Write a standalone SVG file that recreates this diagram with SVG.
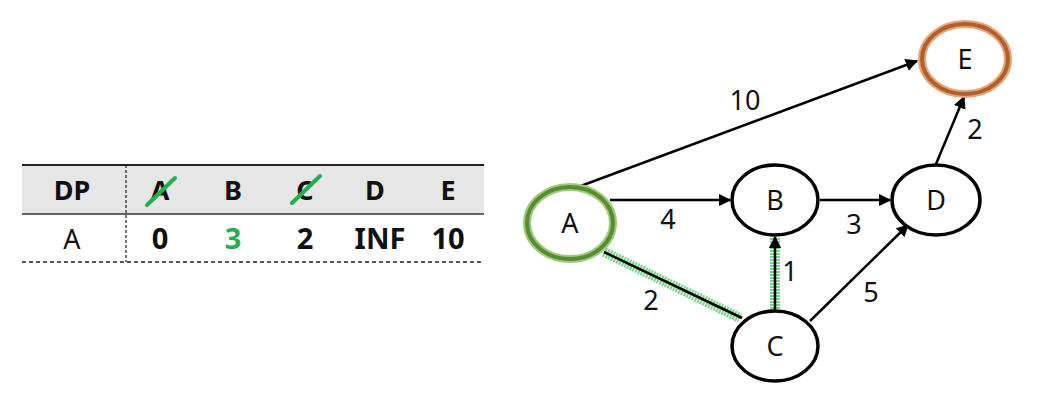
<svg xmlns="http://www.w3.org/2000/svg" width="1049" height="414" viewBox="0 0 1049 414">
<style>
.hd{font-family:"Noto Sans","Liberation Sans",sans-serif;font-weight:bold;font-size:27px;text-anchor:middle;fill:#111}
.rw{font-family:"Noto Sans","Liberation Sans",sans-serif;font-weight:bold;font-size:29px;text-anchor:middle;fill:#111}
.nl{font-family:"Noto Sans","Open Sans","Liberation Sans",sans-serif;font-size:27px;text-anchor:middle;fill:#111}
.el{font-family:"Noto Sans","Open Sans","Liberation Sans",sans-serif;font-size:27px;text-anchor:middle;fill:#111}
.node{fill:#fff;stroke:#000;stroke-width:3.5}
.edge{stroke:#000;stroke-width:2.5;fill:none;marker-end:url(#arr)}
.glow{stroke:#3cc455;stroke-opacity:0.7;stroke-width:10;fill:none;stroke-dasharray:2 1}
.strike{stroke:#22b14c;stroke-width:4;stroke-linecap:round}
</style>
<defs>
<marker id="arr" viewBox="0 0 10 10" refX="9" refY="5" markerWidth="5" markerHeight="5" orient="auto" markerUnits="strokeWidth">
<path d="M0,0 L10,5 L0,10 z" fill="#000"/>
</marker>
</defs>
<g id="table">
<rect x="22" y="165" width="462" height="49" fill="#e6e6e6"/>
<line x1="22" y1="165" x2="484" y2="165" stroke="#222" stroke-width="2"/>
<line x1="22" y1="214" x2="484" y2="214" stroke="#333" stroke-width="1.5"/>
<line x1="22" y1="262" x2="484" y2="262" stroke="#222" stroke-width="1.5" stroke-dasharray="4 3"/>
<line x1="126" y1="165" x2="126" y2="262" stroke="#222" stroke-width="1.2" stroke-dasharray="3 2"/>
<text class="hd" x="72" y="200">DP</text>
<text class="hd" x="160" y="200">A</text>
<text class="hd" x="233" y="200">B</text>
<text class="hd" x="305" y="200">C</text>
<text class="hd" x="375" y="200">D</text>
<text class="hd" x="448" y="200">E</text>
<line class="strike" x1="147" y1="205" x2="175" y2="178"/>
<line class="strike" x1="292" y1="203" x2="320" y2="176"/>
<text class="nl" x="72" y="249">A</text>
<text class="rw" x="160" y="249">0</text>
<text class="rw" x="233" y="249" style="fill:#22b14c">3</text>
<text class="rw" x="305" y="249">2</text>
<text class="rw" x="380" y="249">INF</text>
<text class="rw" x="448" y="249">10</text>
</g>
<g id="connectors">
<line class="glow" x1="604" y1="252" x2="740" y2="318"/>
<line class="glow" x1="775" y1="312" x2="775" y2="238"/>
<line class="edge" x1="578" y1="187" x2="917" y2="61"/>
<line class="edge" x1="610" y1="200" x2="730" y2="200"/>
<line class="edge" x1="820" y1="200" x2="890" y2="200"/>
<line class="edge" x1="775" y1="311" x2="775" y2="237"/>
<line x1="604" y1="252" x2="742" y2="318" stroke="#000" stroke-width="2.5"/>
<line class="edge" x1="810" y1="321" x2="908" y2="225"/>
<line class="edge" x1="936" y1="164" x2="964" y2="97"/>
<text class="el" x="745" y="110">10</text>
<text class="el" x="668" y="229">4</text>
<text class="el" x="854" y="234">3</text>
<text class="el" x="790" y="281">1</text>
<text class="el" x="651" y="310">2</text>
<text class="el" x="871" y="302">5</text>
<text class="el" x="975" y="139">2</text>
</g>
<g id="node-A">
<ellipse cx="570" cy="223" rx="43" ry="36" fill="#fff" stroke="#9ccc7a" stroke-width="8"/>
<ellipse cx="570" cy="223" rx="43" ry="36" fill="none" stroke="#5a8a32" stroke-width="4"/>
<text class="nl" x="570" y="233">A</text>
</g>
<g id="node-B">
<ellipse class="node" cx="775" cy="200" rx="43" ry="35"/>
<text class="nl" x="775" y="210">B</text>
</g>
<g id="node-C">
<ellipse class="node" cx="775" cy="346" rx="43" ry="35"/>
<text class="nl" x="775" y="356">C</text>
</g>
<g id="node-D">
<ellipse class="node" cx="936" cy="200" rx="44" ry="35"/>
<text class="nl" x="936" y="210">D</text>
</g>
<g id="node-E">
<ellipse cx="965" cy="59" rx="43" ry="35" fill="#fff" stroke="#e8a478" stroke-width="8"/>
<ellipse cx="965" cy="59" rx="43" ry="35" fill="none" stroke="#b0602a" stroke-width="4"/>
<text class="nl" x="965" y="69">E</text>
</g>
</svg>
